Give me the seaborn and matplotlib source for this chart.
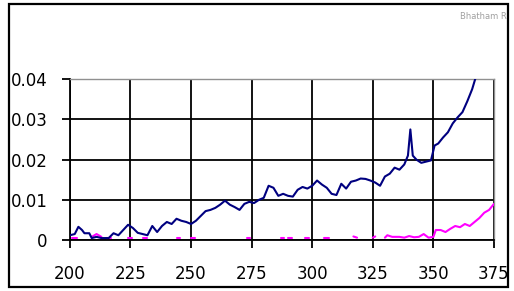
import numpy as np
import pandas as pd
import matplotlib
matplotlib.use("Agg")
import matplotlib.pyplot as plt
import seaborn as sns
from matplotlib.patches import Rectangle

# Mavi seri (lacivert)
blue_x = [200, 202, 203.5, 205, 206, 208, 209, 211, 213, 216, 218, 220, 222, 224, 226, 228,
          230, 232, 234, 236, 238, 240, 242, 244, 246, 248, 250, 252, 254, 256, 258, 260,
          262, 264, 266, 268, 270, 272, 274, 276, 278, 280, 282, 284, 286, 288, 290, 292,
          294, 296, 298, 300, 302, 304, 306, 308, 310, 312, 314, 316, 318, 320, 322, 324,
          326, 328, 330, 332, 334, 336, 338, 339.5, 340.5, 341.5, 343, 345, 347, 349,
          350.5, 352, 354, 356, 358, 360, 362, 364, 366, 367.5]
blue_y = [0.0012, 0.0015, 0.0033, 0.0025, 0.0017, 0.0017, 0.0005, 0.0008, 0.0005, 0.0005,
          0.0017, 0.0012, 0.0025, 0.0038, 0.0030, 0.0018, 0.0015, 0.0012, 0.0035, 0.0020,
          0.0035, 0.0045, 0.0040, 0.0053, 0.0048, 0.0045, 0.0040, 0.0048, 0.0060, 0.0072,
          0.0075, 0.0080, 0.0088, 0.0098, 0.0088, 0.0082, 0.0075, 0.0090, 0.0095, 0.0092,
          0.0100, 0.0105, 0.0135, 0.0130, 0.0110, 0.0115, 0.0110, 0.0108, 0.0125, 0.0132,
          0.0128, 0.0135, 0.0148, 0.0138, 0.0130, 0.0115, 0.0112, 0.0140, 0.0128, 0.0145,
          0.0148, 0.0153, 0.0152, 0.0148, 0.0143, 0.0135, 0.0158, 0.0165, 0.0180, 0.0175,
          0.0188, 0.0210, 0.0275, 0.0210, 0.0200, 0.0192, 0.0195, 0.0198, 0.0235, 0.0240,
          0.0255, 0.0268, 0.0290, 0.0305, 0.0318, 0.0345, 0.0375, 0.0405]

# Pembe seri (kesikli parçalar)
pink_x = [201, 203, 209, 211, 213, 215, 217, 224, 225.5, 230, 232, 244, 245.5, 250, 251.5,
          273, 274.5, 287, 288.5, 290, 291.5, 297, 298.5, 305, 307, 317, 318.5, 325, 326,
          330, 331, 333, 336, 338, 340, 342, 344, 346, 348, 350, 351, 353, 355, 357, 359,
          361, 363, 365, 367, 369, 371, 373, 375]
pink_y = [0.0006, 0.0006, 0.0008, 0.0015, 0.0008, 0.0006, 0.0006, 0.0006, 0.0006, 0.0006,
          0.0006, 0.0006, 0.0006, 0.0006, 0.0006, 0.0006, 0.0006, 0.0006, 0.0006, 0.0006,
          0.0006, 0.0006, 0.0006, 0.0006, 0.0006, 0.0009, 0.0006, 0.0006, 0.0009,
          0.0006, 0.0012, 0.0008, 0.0008, 0.0006, 0.0010, 0.0007, 0.0008, 0.0015, 0.0006,
          0.0008, 0.0025, 0.0025, 0.0020, 0.0028, 0.0035, 0.0032, 0.0040, 0.0035, 0.0045,
          0.0055, 0.0068, 0.0075, 0.0090]
pink_seg = [1, 1, 2, 2, 2, 3, 3, 4, 4, 5, 5, 6, 6, 7, 7, 8, 8, 9, 9, 10, 10, 11, 11, 12, 12,
            13, 13, 14, 14] + [15] * 24

x_ticks = [200, 225, 250, 275, 300, 325, 350, 375]
y_ticks = [0, 0.01, 0.02, 0.03, 0.04]
y_labels = ["0", "0.01", "0.02", "0.03", "0.04"]

blue_df = pd.DataFrame({"x": blue_x, "y": blue_y})
pink_df = pd.DataFrame({"x": pink_x, "y": pink_y, "seg": pink_seg})

sns.set_theme(style="white")
plt.rcParams['font.family'] = ['DejaVu Sans']

fig = plt.figure(figsize=(5.14, 2.91), dpi=100)
ax = fig.add_axes([0.136, 0.175, 0.825, 0.553])

sns.lineplot(data=pink_df, x="x", y="y", units="seg", estimator=None, color="#ff00ff",
             linewidth=1.5, ax=ax, zorder=3)
sns.lineplot(data=blue_df, x="x", y="y", color="#000080", linewidth=1.5, ax=ax, zorder=4)

ax.set_xlim(200, 375)
ax.set_ylim(0, 0.04)
ax.set_xticks(x_ticks)
ax.set_xticklabels([str(v) for v in x_ticks])
ax.set_yticks(y_ticks)
ax.set_yticklabels(y_labels)
ax.set_xlabel("")
ax.set_ylabel("")
ax.tick_params(axis="both", which="major", direction="out", length=6, width=1.3,
               color="black", labelsize=12, labelcolor="black", left=True, bottom=True)
ax.tick_params(axis="y", pad=10)
ax.tick_params(axis="x", pad=12)

for side in ["left", "bottom"]:
    ax.spines[side].set_color("black")
    ax.spines[side].set_linewidth(1.3)
for side in ["top", "right"]:
    ax.spines[side].set_color("#909090")
    ax.spines[side].set_linewidth(1.0)

# Izgara çizgileri
ax.set_axisbelow(True)
ax.xaxis.grid(True, which="major", color="black", linewidth=1.3)
ax.yaxis.grid(True, which="major", color="black", linewidth=1.3)

# Dış çerçeve ve kaynak yazısı
fig.patches.append(Rectangle((0.018, 0.015), 0.97, 0.97, transform=fig.transFigure,
                             fill=False, edgecolor="black", linewidth=1.6))
fig.text(0.985, 0.945, "Bhatham R", ha="right", va="center", fontsize=6, color="#a0a0a0")

fig.savefig("out.png", dpi=100)
